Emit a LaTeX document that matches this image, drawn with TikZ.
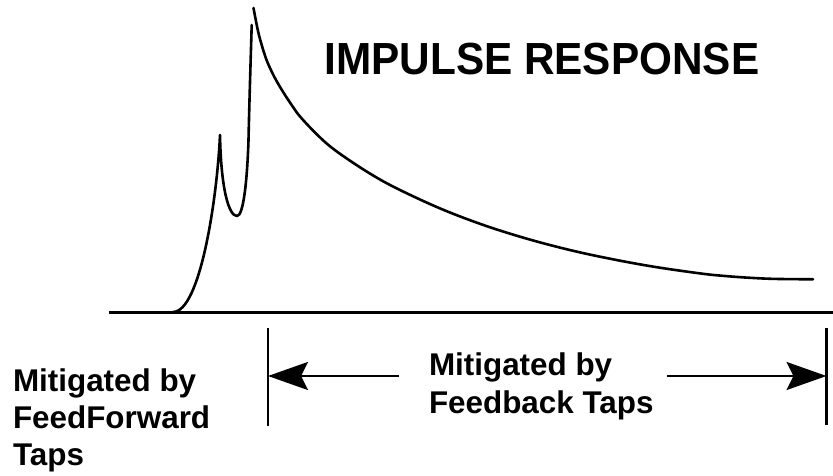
\documentclass[tikz,border=0pt]{standalone}
\usepackage{graphicx}
\usepackage{fontspec}
\setmainfont{Liberation Sans}
\usetikzlibrary{arrows.meta}

\begin{document}
\begin{tikzpicture}[x=1pt,y=-1pt,
  trace/.style={line width=2.6pt, line cap=round, line join=round},
  tick/.style={line width=2.6pt},
  span/.style={line width=2.6pt, -{Stealth[length=40pt,width=28pt,inset=7pt]}},
  txt/.style={inner sep=0pt, anchor=base west, font=\bfseries\fontsize{31.4}{37}\selectfont}]
\useasboundingbox (0,0) rectangle (833,476);
% Titulo
\node[inner sep=0pt, anchor=base west, font=\bfseries\fontsize{45}{50}\selectfont]
  (titulo) at (324.3,75) {\scalebox{0.94}[1]{IMPULSE RESPONSE}};
% Eje de tiempo
\draw[line width=3pt] (109,312) -- (833,312);
% Precursores (feedforward)
\draw[trace] (173,312) .. controls (200,312) and (217,200) .. (220,135)
  .. controls (221,190) and (229,216) .. (237,216)
  .. controls (243,216) and (247,185) .. (248.5,140)
  .. controls (249.5,95) and (251,50) .. (251.7,25);
% Cola (feedback)
\draw[trace] plot[smooth, tension=0.6] coordinates {(253.5,8) (258,31) (262,46)
  (266,58.5) (270,68) (276,80) (284,93.4) (292,105.5) (300,116.5) (315,132.5)
  (330,146.3) (350,160.7) (375,176.6) (400,190) (440,208.4) (480,223.8)
  (520,236.7) (560,247.6) (600,256.7) (650,266.1) (700,273.4) (725,276)
  (750,277.8) (775,278.9) (813,279.3)};
% Marcas del tramo feedback
\coordinate (ini) at (268,376);
\coordinate (fin) at (826.5,376);
\draw[tick] (268,328) -- (268,426);
\draw[tick] (826.5,328) -- (826.5,425);
% Textos
\node[txt] (ff1) at (12.8,391) {Mitigated by};
\node[txt] (ff2) at (12.8,428) {FeedForward};
\node[txt] (ff3) at (12.8,465) {Taps};
\node[txt] (fb1) at (428.8,375) {Mitigated by};
\node[txt] (fb2) at (428.8,413) {Feedback Taps};
% Flechas
\coordinate (izq) at (399,376);
\coordinate (der) at (667,376);
\draw[span] (izq) -- (ini);
\draw[span] (der) -- (fin);
\end{tikzpicture}
\end{document}
